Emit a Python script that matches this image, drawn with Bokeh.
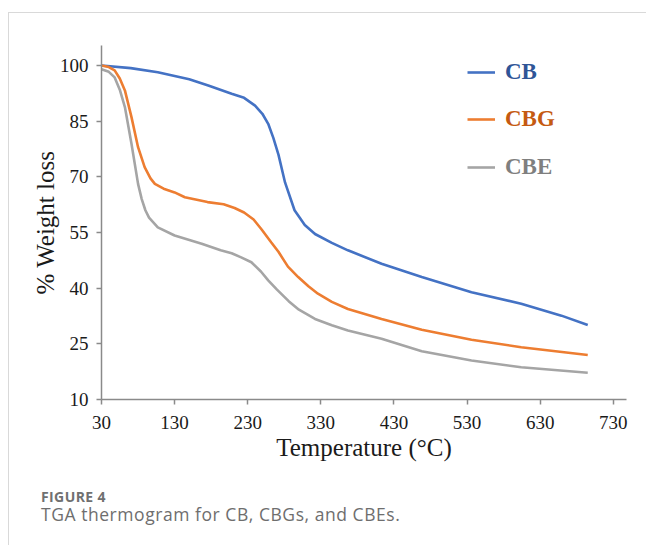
from bokeh.plotting import figure
from bokeh.layouts import column
from bokeh.models import Range1d, FixedTicker, Legend, LegendItem, Div
from bokeh.embed import file_html
from bokeh.resources import INLINE

# ---- data ----
CB_T = [30, 70, 107, 150, 176, 208, 225, 240, 250, 258, 265, 272, 281, 294, 308, 322, 345, 367, 413, 468, 536, 604, 659, 695]
CB_W = [100, 99.3, 98.2, 96.3, 94.6, 92.4, 91.3, 89.2, 87.0, 84.3, 80.5, 76.0, 68.5, 61.0, 57.0, 54.6, 52.2, 50.2, 46.6, 43.0, 38.9, 35.8, 32.6, 30.1]

CBG_T = [30, 40, 48, 55, 62, 71, 80, 89, 97, 103, 115, 130, 144, 175, 197, 212, 225, 238, 249, 262, 272, 285, 299, 313, 326, 345, 367, 413, 468, 536, 604, 695]
CBG_W = [100, 99.6, 98.7, 96.5, 93.3, 86.1, 78.0, 72.6, 69.6, 68.1, 66.8, 65.8, 64.5, 63.2, 62.6, 61.6, 60.4, 58.5, 55.8, 52.4, 49.8, 45.8, 43.0, 40.5, 38.5, 36.3, 34.4, 31.7, 28.8, 26.1, 24.1, 22.0]

CBE_T = [30, 40, 48, 55, 62, 71, 80, 85, 90, 95, 107, 130, 167, 193, 208, 221, 235, 248, 258, 270, 286, 300, 322, 345, 367, 413, 468, 536, 604, 695]
CBE_W = [99.0, 98.3, 96.8, 93.5, 88.8, 78.9, 68.1, 64.0, 61.0, 59.0, 56.4, 54.2, 52.0, 50.2, 49.4, 48.3, 47.0, 44.5, 42.1, 39.6, 36.5, 34.2, 31.7, 30.0, 28.6, 26.4, 23.0, 20.5, 18.7, 17.2]

SERIES = ["CB", "CBG", "CBE"]
X_TICKS = [30, 130, 230, 330, 430, 530, 630, 730]
Y_TICKS = [10, 25, 40, 55, 70, 85, 100]

CAPTION_HEAD = "FIGURE 4"
CAPTION_BODY = "TGA thermogram for CB, CBGs, and CBEs."

LINE_COLORS = ["#4472C4", "#ED7D31", "#A5A5A5"]
TEXT_COLORS = ["#2F5597", "#C55A11", "#7F7F7F"]

SERIF = "Liberation Serif"
AXIS_COLOR = "#8a8a8a"

p = figure(width=637, height=465,
           x_range=Range1d(30, 748), y_range=Range1d(10, 105.4),
           output_backend="svg", toolbar_location=None,
           min_border_left=92, min_border_right=20,
           min_border_top=32, min_border_bottom=79)
p.margin = (0, 0, 0, 0)

p.outline_line_color = None
p.xgrid.visible = False
p.ygrid.visible = False

renderers = []
for t, w, c in zip([CB_T, CBG_T, CBE_T], [CB_W, CBG_W, CBE_W], LINE_COLORS):
    renderers.append(p.line(t, w, line_color=c, line_width=2.6))

for ax in (p.xaxis[0], p.yaxis[0]):
    ax.axis_line_color = AXIS_COLOR
    ax.axis_line_width = 1.5
    ax.major_tick_line_color = AXIS_COLOR
    ax.major_tick_line_width = 1.5
    ax.major_tick_out = 5
    ax.major_tick_in = 0
    ax.minor_tick_line_color = None
    ax.major_label_text_font = SERIF
    ax.major_label_text_font_size = "19px"
    ax.major_label_text_color = "#1a1a1a"
    ax.axis_label_text_font = SERIF
    ax.axis_label_text_font_size = "25px"
    ax.axis_label_text_font_style = "normal"
    ax.axis_label_text_color = "#1a1a1a"

p.xaxis.ticker = FixedTicker(ticks=X_TICKS)
p.yaxis.ticker = FixedTicker(ticks=Y_TICKS)
p.xaxis.axis_label = "Temperature (°C)"
p.yaxis.axis_label = "% Weight loss"
p.xaxis.major_label_standoff = 11
p.yaxis.major_label_standoff = 8
p.xaxis.axis_label_standoff = 2
p.yaxis.axis_label_standoff = -2

legend_y = [314, 267, 219]
for r, name, tc, ly in zip(renderers, SERIES, TEXT_COLORS, legend_y):
    leg = Legend(items=[LegendItem(label=name, renderers=[r])],
                 location=(366, ly), glyph_width=28, glyph_height=24,
                 label_height=24, label_standoff=10, padding=0, margin=0,
                 border_line_color=None, background_fill_alpha=0,
                 label_text_font=SERIF, label_text_font_style="bold",
                 label_text_font_size="23px", label_text_color=tc)
    p.add_layout(leg)

caption_html = (
    "<div style=\"font-family:'Open Sans';font-weight:bold;font-size:14px;"
    "letter-spacing:0.4px;color:#707070;line-height:16px;margin:11px 0 0 32px;\">"
    + CAPTION_HEAD + "</div>"
    "<div style=\"font-family:'Open Sans';font-weight:normal;font-size:17.5px;"
    "letter-spacing:0.55px;color:#6e6e6e;line-height:18px;margin:0 0 0 32px;"
    "white-space:nowrap;\">" + CAPTION_BODY + "</div>"
)
cap = Div(text=caption_html, width=637, height=67, margin=(0, 0, 0, 0))

layout = column(p, cap, spacing=0,
                styles={"margin-left": "8px", "margin-top": "12px",
                        "border-top": "1px solid #d9d9d9",
                        "border-left": "1px solid #d9d9d9"})

open("out.html", "w").write(file_html(layout, INLINE))
